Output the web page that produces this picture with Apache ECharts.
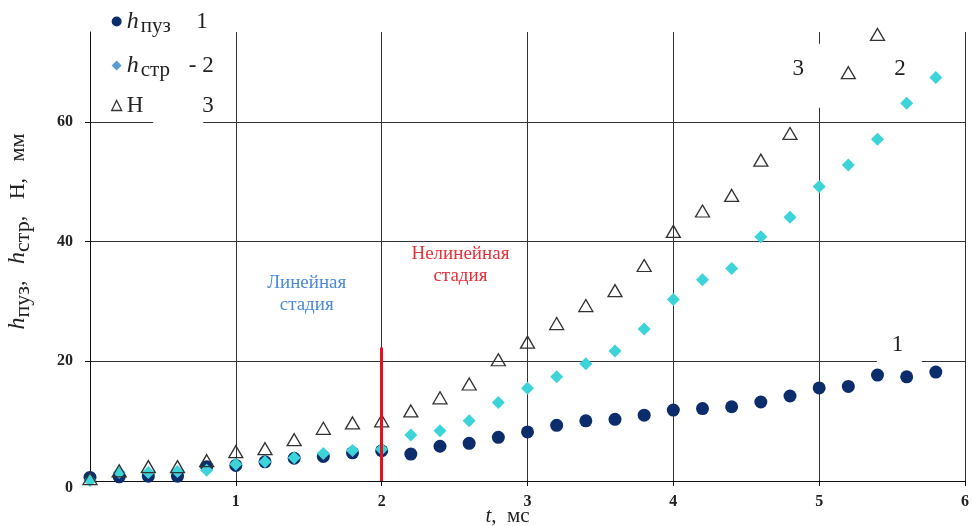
<!DOCTYPE html>
<html>
<head>
<meta charset="utf-8">
<script src="https://cdn.jsdelivr.net/npm/echarts@6/dist/echarts.min.js"></script>
<style>
html,body{margin:0;padding:0;background:#fff;}
#c{width:972px;height:526px;}
</style>
</head>
<body>
<div id="c"></div>
<script>
// time, ms
var tValues = [0, 0.2, 0.4, 0.6, 0.8, 1.0, 1.2, 1.4, 1.6, 1.8, 2.0, 2.2, 2.4, 2.6, 2.8,
               3.0, 3.2, 3.4, 3.6, 3.8, 4.0, 4.2, 4.4, 4.6, 4.8, 5.0, 5.2, 5.4, 5.6, 5.8];
// series 1: h_пуз
var hPuz = [0.6, 0.7, 0.8, 0.8, 2.4, 2.6, 3.2, 3.8, 4.1, 4.7, 5.05, 4.5, 5.8, 6.3, 7.3,
            8.2, 9.3, 10.05, 10.3, 11.0, 11.85, 12.1, 12.4, 13.2, 14.2, 15.55, 15.8, 17.7, 17.4, 18.2];
// series 2: h_стр
var hStr = [0.1, 1.4, 1.4, 1.6, 1.8, 2.8, 3.2, 3.9, 4.6, 5.1, 5.3, 7.7, 8.4, 10.05, 13.1,
            15.5, 17.4, 19.6, 21.7, 25.4, 30.3, 33.6, 35.5, 40.8, 44.05, 49.2, 52.8, 57.1, 63.1, 67.4];
// series 3: H
var hH = [0.4, 1.7, 2.4, 2.4, 3.4, 4.9, 5.4, 6.9, 8.8, 9.7, 10.05, 11.7, 13.9, 16.2, 20.25,
          23.2, 26.3, 29.3, 31.8, 36.0, 41.7, 45.1, 47.7, 53.6, 58.05, null, 68.2, 74.6, null, null];
var xTicks = [0, 1, 2, 3, 4, 5, 6];
var yTicks = [0, 20, 40, 60];
var boundaryT = 2;      // linear / nonlinear boundary
var boundaryTop = 22.3; // height of red line

function pairs(vals) {
  var out = [];
  for (var i = 0; i < tValues.length; i++) {
    if (vals[i] !== null) out.push([tValues[i], vals[i]]);
  }
  return out;
}

var SERIF = 'Liberation Serif';
var chart = echarts.init(document.getElementById('c'), null, {renderer: 'canvas'});

var numLabel = function (txt, coord, offset) {
  return {
    coord: coord, symbol: 'rect', symbolSize: 1,
    itemStyle: {color: 'rgba(0,0,0,0)'},
    label: {show: true, position: 'inside', formatter: txt, fontFamily: SERIF, fontSize: 23,
            color: '#222', offset: offset || [0, 0]}
  };
};
var whiteBox = function (coord, size) {
  return {coord: coord, symbol: 'rect', symbolSize: size, itemStyle: {color: '#fff'}, label: {show: false}};
};

var option = {
  animation: false,
  backgroundColor: '#fff',
  grid: {left: 90, right: 7, top: 32, bottom: 45, containLabel: false, outerBoundsMode: 'none'},
  legend: {
    orient: 'vertical', left: 106, top: 1, itemWidth: 10, itemHeight: 10, itemGap: 13,
    selectedMode: false,
    data: [
      {name: 'h_пуз', icon: 'circle', itemStyle: {color: '#0c2d6b'}},
      {name: 'h_стр', icon: 'diamond', itemStyle: {color: '#5b9bd5'}},
      {name: 'H', icon: 'triangle', itemStyle: {color: 'rgba(0,0,0,0)', borderColor: '#333', borderWidth: 1.3}}
    ],
    formatter: function (name) {
      if (name === 'h_пуз') return '{i|h}{s|пуз}{n|1}';
      if (name === 'h_стр') return '{i|h}{s|стр}{m|- 2}';
      return '{H|H}{m|3}';
    },
    textStyle: {
      fontFamily: SERIF, color: '#222',
      rich: {
        i: {fontFamily: SERIF, fontStyle: 'italic', fontSize: 24, lineHeight: 30, width: 14, color: '#222'},
        s: {fontFamily: SERIF, fontSize: 21, lineHeight: 20, padding: [10, 0, 0, 0], width: 42, color: '#222'},
        H: {fontFamily: SERIF, fontSize: 23, lineHeight: 30, width: 56, color: '#222'},
        n: {fontFamily: SERIF, fontSize: 23, lineHeight: 30, width: 25, align: 'right', color: '#222'},
        m: {fontFamily: SERIF, fontSize: 23, lineHeight: 30, width: 31, align: 'right', color: '#222'}
      }
    }
  },
  xAxis: {
    type: 'value', min: xTicks[0], max: xTicks[xTicks.length - 1], interval: 1,
    axisLine: {show: true, lineStyle: {color: '#111', width: 1}},
    axisTick: {show: true, length: 5, lineStyle: {color: '#111'}},
    splitLine: {show: true, lineStyle: {color: '#333', width: 1}},
    axisLabel: {showMinLabel: false, fontFamily: SERIF, fontWeight: 'bold', fontSize: 16, color: '#222', margin: 13},
    name: '{i|t}{r|,  мс}', nameLocation: 'middle', nameGap: 25, nameMoveOverlap: false,
    nameTextStyle: {
      padding: [0, 40, 0, 0],
      rich: {
        i: {fontFamily: SERIF, fontStyle: 'italic', fontSize: 21, color: '#222'},
        r: {fontFamily: SERIF, fontSize: 21, color: '#222'}
      }
    }
  },
  yAxis: {
    type: 'value', min: yTicks[0], max: 75, interval: 20,
    axisLine: {show: true, lineStyle: {color: '#111', width: 1}},
    axisTick: {show: true, length: 5, lineStyle: {color: '#111'}},
    splitLine: {show: true, showMaxLine: false, lineStyle: {color: '#333', width: 1}},
    axisLabel: {
      showMinLabel: false, showMaxLabel: false, fontFamily: SERIF, fontWeight: 'bold', fontSize: 16, color: '#222', margin: 17,
      formatter: function (v) { return yTicks.indexOf(v) >= 0 ? String(v) : ''; }
    },
    name: '{i|h}{s|пуз}{r|,   }{i|h}{s|стр}{r|,   H,   мм}',
    nameLocation: 'middle', nameGap: 57, nameRotate: 90, nameMoveOverlap: false,
    nameTextStyle: {
      padding: [0, 0, 0, 50],
      rich: {
        i: {fontFamily: SERIF, fontStyle: 'italic', fontSize: 24, lineHeight: 30, color: '#222'},
        s: {fontFamily: SERIF, fontSize: 22, lineHeight: 20, padding: [10, 0, 0, 0], color: '#222'},
        r: {fontFamily: SERIF, fontSize: 22, lineHeight: 30, color: '#222'}
      }
    }
  },
  series: [
    {
      name: 'h_пуз', type: 'scatter', symbol: 'circle', symbolSize: 13, clip: false,
      itemStyle: {color: '#0c2d6b', opacity: 1},
      data: pairs(hPuz),
      markLine: {
        silent: true, symbol: 'none', animation: false,
        lineStyle: {color: '#e8101a', width: 3, type: 'solid'},
        label: {show: false},
        data: [[{coord: [boundaryT, 0]}, {coord: [boundaryT, boundaryTop]}]]
      },
      markPoint: {
        silent: true, animation: false,
        data: [
          whiteBox([0.605, 60], [50, 4]),
          whiteBox([5.0, 67.7], [22, 64]),
          whiteBox([5.55, 22.3], [45, 32]),
          numLabel('1', [5.55, 22.3], [-2, -3]),
          numLabel('2', [5.555, 68.8]),
          numLabel('3', [4.856, 68.8]),
          {
            coord: [1.486, 31.2], symbol: 'rect', symbolSize: 1, itemStyle: {color: 'rgba(0,0,0,0)'},
            label: {show: true, position: 'inside', formatter: 'Линейная\nстадия', fontFamily: SERIF,
                    fontSize: 19, lineHeight: 22, color: '#4a8ad8'}
          },
          {
            coord: [2.54, 36.0], symbol: 'rect', symbolSize: 1, itemStyle: {color: 'rgba(0,0,0,0)'},
            label: {show: true, position: 'inside', formatter: 'Нелинейная\nстадия', fontFamily: SERIF,
                    fontSize: 19, lineHeight: 22, color: '#e8303a'}
          }
        ]
      }
    },
    {
      name: 'h_стр', type: 'scatter', symbol: 'diamond', symbolSize: 13, clip: false,
      itemStyle: {color: '#3cd3d9', opacity: 1},
      data: pairs(hStr)
    },
    {
      name: 'H', type: 'scatter', symbol: 'triangle', symbolSize: [14, 12], clip: false,
      itemStyle: {color: 'rgba(0,0,0,0)', borderColor: '#333', borderWidth: 1.3, opacity: 1},
      data: pairs(hH)
    }
  ]
};
chart.setOption(option);

// shared origin tick label "0", placed below-left of the origin as in the source
var origin = chart.convertToPixel({gridIndex: 0}, [xTicks[0], yTicks[0]]);
chart.setOption({
  graphic: [{
    type: 'text', silent: true,
    x: origin[0] - 21, y: origin[1] + 7,
    style: {text: String(yTicks[0]), fontFamily: SERIF, fontWeight: 'bold', fontSize: 16, fill: '#222',
            align: 'center', verticalAlign: 'middle'}
  }]
});
</script>
</body>
</html>
